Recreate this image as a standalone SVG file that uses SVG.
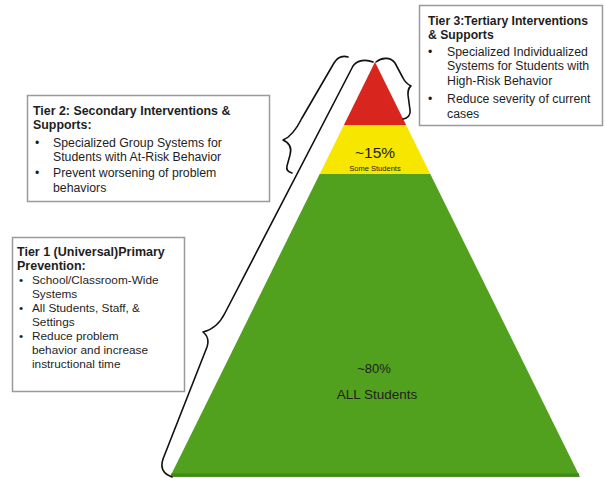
<svg xmlns="http://www.w3.org/2000/svg" width="605" height="478" viewBox="0 0 605 478">
<style>
.box{fill:#ffffff;stroke:#9a9a9a;stroke-width:1.5}
.t{font-family:"Liberation Sans",Arial,sans-serif;fill:#1e1e1e}
.b{font-weight:bold}
.brace{fill:none;stroke:#111;stroke-width:1.6;stroke-linecap:round;stroke-linejoin:round}
</style>
<rect width="605" height="478" fill="#ffffff"/>
<g id="pyramid">
<polygon id="tier3-band" points="375,62 406.1,125 343.9,125" fill="#d8261e"/>
<polygon id="tier2-band" points="343.9,125 406.1,125 430.3,174 319.7,174" fill="#f6e600"/>
<polygon id="tier1-band" points="319.7,174 430.3,174 580,477 170,477" fill="#52a11e"/>
<line x1="171" y1="475" x2="579" y2="475" stroke="#3f8a17" stroke-width="3"/>
<text class="t" x="375" y="158" font-size="15.5" text-anchor="middle" fill="#3a3000">~15%</text>
<text class="t" x="375" y="171" font-size="7.5" text-anchor="middle" fill="#6a5f00">Some Students</text>
<text class="t" x="374" y="373" font-size="13" text-anchor="middle" fill="#3a8a26">~80%</text>
<text class="t" x="377" y="399" font-size="13.5" text-anchor="middle" fill="#3a8a26">ALL Students</text>
</g>
<g id="connectors">
<path id="brace-tier3" class="brace" d="M376,62 C381,58 390,56 395,63 L403,78 C405,82 407,84 411,86 C408,88 408,91 408,95 L410,110 C411,115 408,118 403,119"/>
<path id="brace-tier2" class="brace" d="M348,57 C341,55 337,58 334,63 L302,118 C297,128 291,137 283,140 C290,143 292,148 290,155 L287,166 C286,170 288,172 292,173"/>
<path id="brace-tier1" class="brace" d="M373,62 C366,59 357,60 353,66 L225,313 C219,325 212,330 203,332 C208,336 209,341 207,347 L163,459 C160,468 163,474 172,477"/>
</g>
<g id="tier3">
<rect class="box" x="419.5" y="5.5" width="183" height="120"/>
<text class="t b" x="428" y="25" font-size="12.2">Tier 3:Tertiary Interventions</text>
<text class="t b" x="428" y="39" font-size="12.2">&amp; Supports</text>
<text class="t" font-size="12.3"><tspan x="428" y="56">•</tspan><tspan x="447" y="56">Specialized Individualized</tspan><tspan x="447" y="70">Systems for Students with</tspan><tspan x="447" y="85">High-Risk Behavior</tspan></text>
<text class="t" font-size="12.3" fill="#555"><tspan x="428" y="103">•</tspan><tspan x="447" y="103">Reduce severity of current</tspan></text>
<text class="t" font-size="12.3" x="447" y="118" fill="#8a5a3c">cases</text>
</g>
<g id="tier2">
<rect class="box" x="27.5" y="95.5" width="242" height="106"/>
<text class="t b" x="33" y="115" font-size="12.4">Tier 2: Secondary Interventions &amp;</text>
<text class="t b" x="33" y="129" font-size="12.4">Supports:</text>
<text class="t" font-size="12.3"><tspan x="35" y="147">•</tspan><tspan x="53" y="147">Specialized Group Systems for</tspan><tspan x="53" y="161">Students with At-Risk Behavior</tspan><tspan x="35" y="177">•</tspan><tspan x="53" y="177">Prevent worsening of problem</tspan><tspan x="53" y="192">behaviors</tspan></text>
</g>
<g id="tier1">
<rect class="box" x="12.5" y="237.5" width="172" height="154"/>
<text class="t b" x="17" y="256" font-size="12.5">Tier 1 (Universal)Primary</text>
<text class="t b" x="17" y="270" font-size="12.5">Prevention:</text>
<text class="t" font-size="11.8"><tspan x="19" y="284">•</tspan><tspan x="32" y="284">School/Classroom-Wide</tspan><tspan x="32" y="298">Systems</tspan><tspan x="19" y="312">•</tspan><tspan x="32" y="312">All Students, Staff, &amp;</tspan><tspan x="32" y="326">Settings</tspan><tspan x="19" y="340">•</tspan><tspan x="32" y="340">Reduce problem</tspan><tspan x="32" y="354">behavior and increase</tspan><tspan x="32" y="368">instructional time</tspan></text>
</g>
</svg>
